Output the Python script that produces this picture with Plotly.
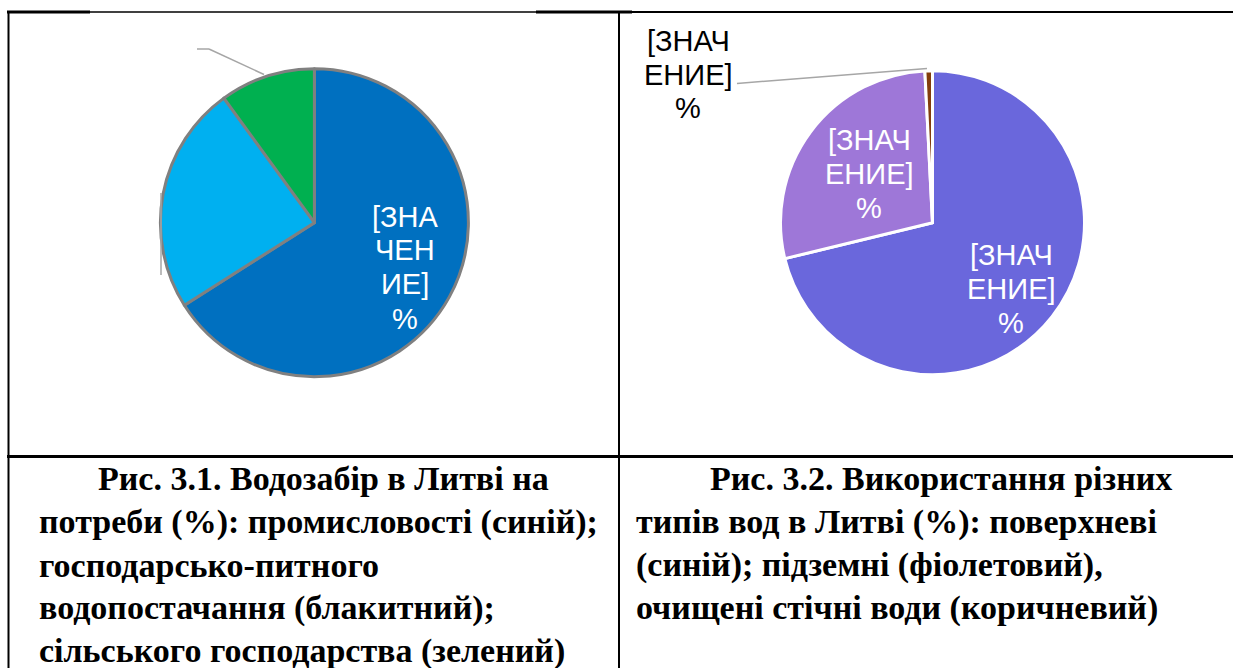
import plotly.graph_objects as go

W, H = 1233, 668

# Left chart: water withdrawal in Lithuania by need (%)
left_categories = ["промисловості", "господарсько-питного водопостачання", "сільського господарства"]
left_values = [66, 24, 10]
left_colors = ["#0070C0", "#00B0F0", "#00B050"]

# Right chart: use of different water types (%)
right_categories = ["поверхневі", "підземні", "очищені стічні води"]
right_values = [71.2, 28.0, 0.8]
right_colors = ["#6A67DC", "#9E77D8", "#843C0C"]

# Placeholder data labels as shown in the source
left_blue_label = ["[ЗНА", "ЧЕН", "ИЕ]", "%"]
right_label = ["[ЗНАЧ", "ЕНИЕ]", "%"]

left_caption = [
    "Рис. 3.1. Водозабір в Литві на",
    "потреби (%): промисловості (синій);",
    "господарсько-питного",
    "водопостачання (блакитний);",
    "сільського господарства (зелений)",
]
right_caption = [
    "Рис. 3.2. Використання різних",
    "типів вод в Литві (%): поверхневі",
    "(синій); підземні (фіолетовий),",
    "очищені стічні води (коричневий)",
]


def px(x):
    return x / W


def py(y):
    return 1 - y / H


fig = go.Figure()

fig.add_trace(go.Pie(
    labels=left_categories, values=left_values, sort=False, direction="clockwise",
    rotation=0, textposition="none", hoverinfo="label+percent",
    marker=dict(colors=left_colors, line=dict(color="#808080", width=3)),
    domain=dict(x=[px(314.4 - 154), px(314.4 + 154)], y=[py(222.7 + 154), py(222.7 - 154)]),
    showlegend=False,
))

fig.add_trace(go.Pie(
    labels=right_categories, values=right_values, sort=False, direction="clockwise",
    rotation=0, textposition="none", hoverinfo="label+percent",
    marker=dict(colors=right_colors, line=dict(color="#FFFFFF", width=3)),
    domain=dict(x=[px(932.5 - 152), px(932.5 + 152)], y=[py(222.7 + 152), py(222.7 - 152)]),
    showlegend=False,
))

annotations = []


def label_block(lines, xc, ys, color):
    for line, y in zip(lines, ys):
        annotations.append(dict(x=px(xc), y=py(y), text=line, xref="paper", yref="paper",
                                showarrow=False, xanchor="center", yanchor="middle",
                                font=dict(family="Liberation Sans, Arial", size=29, color=color)))


label_block(left_blue_label, 405, [217, 250, 284, 319], "white")
label_block(right_label, 1011, [255, 289, 323], "white")
label_block(right_label, 869, [140, 174, 208], "white")
label_block(right_label, 688, [41, 75, 108], "black")

cap_font = dict(family="Liberation Serif, Times New Roman", size=34, color="black")
cap_y = [478, 522, 565, 608, 651]
for i, line in enumerate(left_caption):
    annotations.append(dict(x=px(96 if i == 0 else 37), y=py(cap_y[i]), text="<b>%s</b>" % line,
                            xref="paper", yref="paper", showarrow=False, xanchor="left",
                            yanchor="middle", font=cap_font))
for i, line in enumerate(right_caption):
    annotations.append(dict(x=px(708 if i == 0 else 634), y=py(cap_y[i]), text="<b>%s</b>" % line,
                            xref="paper", yref="paper", showarrow=False, xanchor="left",
                            yanchor="middle", font=cap_font))


def seg(x0, y0, x1, y1, color="black", width=2):
    return dict(type="line", xref="paper", yref="paper", x0=px(x0), y0=py(y0), x1=px(x1), y1=py(y1),
                line=dict(color=color, width=width))


shapes = [
    # table borders
    seg(7, 12, 90, 12, width=3),
    seg(90, 12, 536, 12, width=1.3),
    seg(536, 12, 632, 12, width=3),
    seg(632, 12, 1233, 12, width=2),
    seg(8.5, 11, 8.5, 668, width=2),
    seg(619, 12, 619, 668, width=2),
    seg(7, 456.5, 1233, 456.5, width=3),
    # leader lines
    seg(197, 49, 209, 49, color="#A6A6A6", width=1.5),
    seg(209, 49, 264, 74.5, color="#A6A6A6", width=1.5),
    seg(161, 193, 161, 275, color="#A6A6A6", width=1.5),
    seg(737, 83.5, 927, 68.5, color="#A6A6A6", width=1.5),
]

fig.update_layout(
    width=W, height=H, margin=dict(l=0, r=0, t=0, b=0),
    paper_bgcolor="white", plot_bgcolor="white",
    annotations=annotations, shapes=shapes,
)

fig.write_html(
    "out.html",
    config={"displayModeBar": False},
    post_script="document.body.style.margin='0';document.body.style.overflow='hidden';",
)
